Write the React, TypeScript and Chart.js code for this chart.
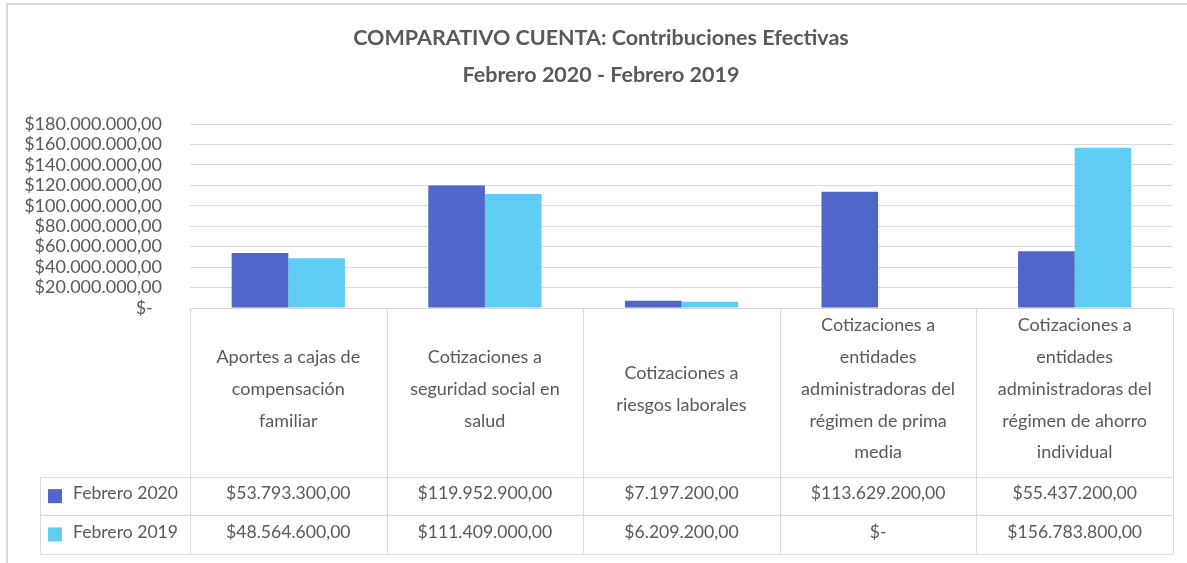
import React, { useEffect, useRef } from "react";
import { Chart, registerables } from "chart.js";

Chart.register(...registerables);

const titleLines = ["COMPARATIVO CUENTA: Contribuciones Efectivas", "Febrero 2020 - Febrero 2019"];
const categories: string[][] = [
  ["Aportes a cajas de", "compensación", "familiar"],
  ["Cotizaciones a", "seguridad social en", "salud"],
  ["Cotizaciones a", "riesgos laborales"],
  ["Cotizaciones a", "entidades", "administradoras del", "régimen de prima", "media"],
  ["Cotizaciones a", "entidades", "administradoras del", "régimen de ahorro", "individual"],
];
const seriesNames = ["Febrero 2020", "Febrero 2019"];
const febrero2020 = [53793300, 119952900, 7197200, 113629200, 55437200];
const febrero2019 = [48564600, 111409000, 6209200, 0, 156783800];
const seriesColors = ["#4E67C8", "#5ECCF3"];
const yMax = 180000000;
const yStep = 20000000;

const FONT = "Lato, 'Open Sans', sans-serif";
const TEXT = "#595959";
const LINE = "#d9d9d9";

function money(v: number): string {
  if (v === 0) return "$-";
  const [int, dec] = v.toFixed(2).split(".");
  return "$" + int.replace(/\B(?=(\d{3})+(?!\d))/g, ".") + "," + dec;
}

const tablePlugin = {
  id: "excelTable",
  afterDraw(chart: any) {
    const ctx = chart.ctx;
    const area = chart.chartArea;
    const xs = chart.scales.x;
    const n = categories.length;
    const colW = (area.right - area.left) / n;
    const top = area.bottom;
    const headBottom = 477;
    const rowH = 38.3;
    const tableLeft = 40;
    const bottom = headBottom + rowH * 2;
    ctx.save();
    // chart frame
    ctx.strokeStyle = LINE;
    ctx.lineWidth = 2;
    ctx.strokeRect(7, 4, 1400, 800);
    // title
    ctx.fillStyle = TEXT;
    ctx.textAlign = "center";
    ctx.textBaseline = "middle";
    ctx.font = `bold 21.5px ${FONT}`;
    ctx.fillText(titleLines[0], 601, 38);
    ctx.fillText(titleLines[1], 601, 75);
    // table lines
    ctx.lineWidth = 1;
    ctx.strokeStyle = LINE;
    ctx.beginPath();
    ctx.moveTo(area.left, top + 0.5);
    ctx.lineTo(area.right, top + 0.5);
    for (let r = 0; r < 3; r++) {
      const y = Math.round(headBottom + rowH * r) + 0.5;
      ctx.moveTo(tableLeft, y);
      ctx.lineTo(area.right, y);
    }
    ctx.moveTo(tableLeft + 0.5, headBottom);
    ctx.lineTo(tableLeft + 0.5, bottom);
    for (let i = 0; i <= n; i++) {
      const x = Math.round(area.left + colW * i) + 0.5;
      ctx.moveTo(x, top);
      ctx.lineTo(x, bottom);
    }
    ctx.stroke();
    // header labels
    ctx.font = `18px ${FONT}`;
    ctx.fillStyle = TEXT;
    const lineH = 31.7;
    const midHead = 389;
    categories.forEach((lines, i) => {
      const cx = xs.getPixelForValue(i);
      const y0 = midHead - ((lines.length - 1) * lineH) / 2;
      lines.forEach((ln, j) => ctx.fillText(ln, cx, y0 + j * lineH));
    });
    // rows
    ctx.font = `17.6px ${FONT}`;
    const rows = [febrero2020, febrero2019];
    rows.forEach((vals, r) => {
      const cy = headBottom + rowH * r + rowH / 2;
      ctx.fillStyle = seriesColors[r];
      ctx.fillRect(48, cy - 7, 14, 14);
      ctx.fillStyle = TEXT;
      ctx.textAlign = "left";
      ctx.fillText(seriesNames[r], 73, cy - 2.5);
      ctx.textAlign = "center";
      vals.forEach((v, i) => {
        ctx.fillText(money(v), xs.getPixelForValue(i), cy - 2.5);
      });
    });
    ctx.restore();
  },
};

export default function App() {
  const ref = useRef<HTMLCanvasElement>(null);
  useEffect(() => {
    if (!ref.current) return;
    const chart = new Chart(ref.current, {
      type: "bar",
      data: {
        labels: categories.map((c) => c.join(" ")),
        datasets: [
          { label: seriesNames[0], data: febrero2020, backgroundColor: seriesColors[0], barPercentage: 1, categoryPercentage: 0.576 },
          { label: seriesNames[1], data: febrero2019, backgroundColor: seriesColors[1], barPercentage: 1, categoryPercentage: 0.576 },
        ],
      },
      options: {
        responsive: false,
        animation: false,
        devicePixelRatio: 1,
        layout: { padding: { top: 124, bottom: 563 - 308, left: 0, right: 14 } },
        plugins: { legend: { display: false }, title: { display: false }, tooltip: { enabled: false } },
        scales: {
          x: { display: false },
          y: {
            min: 0,
            max: yMax,
            border: { display: false },
            grid: { color: LINE, drawTicks: false, lineWidth: 1 },
            afterFit: (scale: any) => {
              scale.width = 190;
            },
            ticks: {
              stepSize: yStep,
              autoSkip: false,
              padding: 28,
              color: TEXT,
              font: { family: FONT, size: 18 },
              callback: (v: any) => (Number(v) === 0 ? "$-  " : money(Number(v))),
            },
          },
        },
      },
      plugins: [tablePlugin],
    });
    return () => chart.destroy();
  }, []);
  return (
    <div style={{ position: "fixed", left: 0, top: 0, width: 1187, height: 563, background: "#fff" }}>
      <canvas ref={ref} width={1187} height={563} />
    </div>
  );
}
